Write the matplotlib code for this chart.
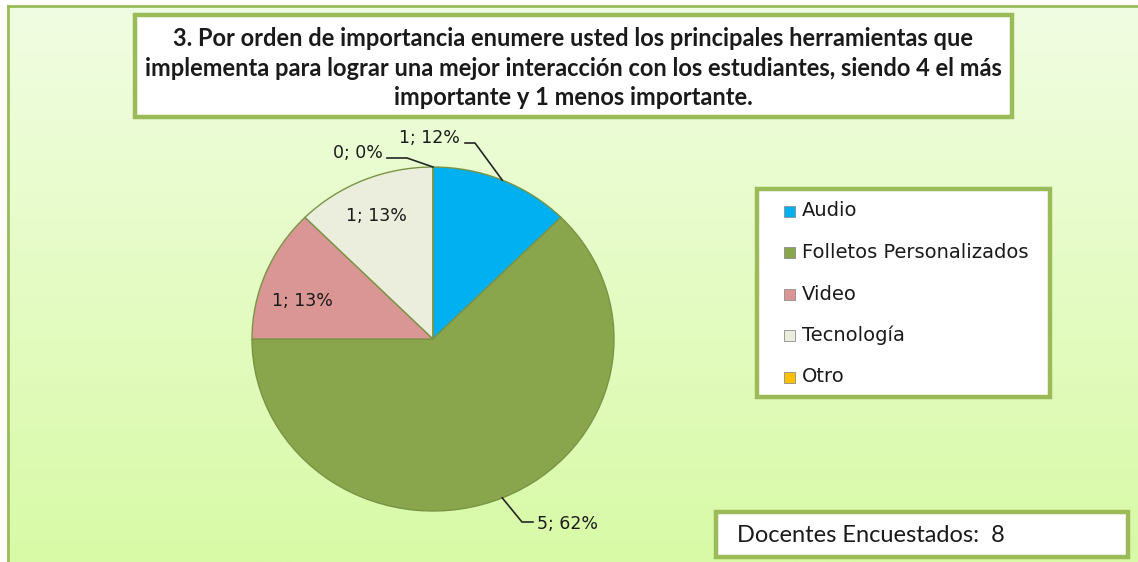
import numpy as np
import matplotlib
matplotlib.use('Agg')
import matplotlib.pyplot as plt
from matplotlib.patches import Rectangle

categorias = ['Audio', 'Folletos Personalizados', 'Video', 'Tecnología', 'Otro']
valores = [1, 5, 1, 1, 0]
porcentajes = ['12%', '62%', '13%', '13%', '0%']
colores = ['#00b0f0', '#8aa64d', '#da9694', '#ebeedd', '#ffc000']
titulo = ('3. Por orden de importancia enumere usted los principales herramientas que\n'
          'implementa para lograr una mejor interacción con los estudiantes, siendo 4 el más\n'
          'importante y 1 menos importante.')
total_docentes = 8

W, H = 1138, 562
verde = '#9bbb59'

fig = plt.figure(figsize=(W / 100, H / 100), dpi=100)
fig.patch.set_facecolor('white')

# fondo en pixeles
bg = fig.add_axes([0, 0, 1, 1])
bg.set_xlim(0, W)
bg.set_ylim(H, 0)
bg.axis('off')

grad = np.linspace(0, 1, 256).reshape(-1, 1)
c_top = np.array([241, 253, 226]) / 255
c_bot = np.array([216, 250, 166]) / 255
img = c_top + grad[..., None] * (c_bot - c_top)
img = np.repeat(img, 2, axis=1)
bg.imshow(img, extent=[8, W, H, 6], aspect='auto', zorder=0)
bg.plot([8, 8], [6, H], color=verde, lw=2, zorder=1)
bg.plot([8, W], [6, 6], color=verde, lw=2, zorder=1)

# caja del titulo
bg.add_patch(Rectangle((135, 15), 877, 102, facecolor='white', edgecolor=verde, lw=3.2, zorder=2))
bg.text(573, 68, titulo, ha='center', va='center', fontsize=17, fontweight='bold',
        family='Lato', linespacing=1.34, color='#1a1a1a', zorder=3)

# leyenda
bg.add_patch(Rectangle((757, 189), 293, 208, facecolor='white', edgecolor=verde, lw=3.2, zorder=2))
for i, (cat, col) in enumerate(zip(categorias, colores)):
    yy = 211 + i * 41.5
    bg.add_patch(Rectangle((784, yy - 5.5), 11, 11, facecolor=col, edgecolor='#8c8c8c', lw=0.6, zorder=3))
    bg.text(802, yy, cat, ha='left', va='center', fontsize=14, family='DejaVu Sans',
            color='#1a1a1a', zorder=3)

# caja docentes
bg.add_patch(Rectangle((716, 512), 412, 45, facecolor='white', edgecolor=verde, lw=3.2, zorder=2))
bg.text(737, 535, 'Docentes Encuestados:  %d' % total_docentes, ha='left', va='center',
        fontsize=17, family='Lato', color='#1a1a1a', zorder=3)

# pastel
cx, cy, rx, ry = 433, 339, 181, 172
ax = fig.add_axes([(cx - rx) / W, (H - cy - ry) / H, 2 * rx / W, 2 * ry / H])
wedges, _ = ax.pie(valores, colors=colores, startangle=90, counterclock=False,
                   wedgeprops=dict(edgecolor='#7a9444', linewidth=1.0))
ax.set_aspect('auto')
ax.set_xlim(-1, 1)
ax.set_ylim(-1, 1)
ax.axis('off')
ax.patch.set_alpha(0)

def px2d(px, py):
    return (px - cx) / rx, (cy - py) / ry

etiquetas = ['%d; %s' % (v, p) for v, p in zip(valores, porcentajes)]
angs = []
acum = 0
for v in valores:
    angs.append(np.deg2rad((acum + v / 2) / sum(valores) * 360))
    acum += v

lab_font = dict(fontsize=12.5, family='DejaVu Sans', color='#1a1a1a')

# etiquetas internas (posicion en pixeles)
internas = {2: (302, 301), 3: (376, 216)}
for i, p in internas.items():
    tx, ty = px2d(*p)
    ax.text(tx, ty, etiquetas[i], ha='center', va='center', **lab_font)

# etiquetas externas con lineas guia
guias = {
    0: dict(texto=(460, 138, 'right'), codo=[(475, 143), (465, 143)]),
    4: dict(texto=(383, 153, 'right'), codo=[(407, 158), (387, 158)]),
    1: dict(texto=(537, 524, 'left'), codo=[(522, 522), (533, 522)]),
}
for i, g in guias.items():
    x0, y0 = np.sin(angs[i]), np.cos(angs[i])
    pts = [(x0, y0)] + [px2d(*p) for p in g['codo']]
    xs, ys = zip(*pts)
    ax.plot(xs, ys, color='#262626', lw=1.2, clip_on=False)
    tx, ty = px2d(g['texto'][0], g['texto'][1])
    ax.text(tx, ty, etiquetas[i], ha=g['texto'][2], va='center', clip_on=False, **lab_font)

fig.savefig('out.png', dpi=100)
